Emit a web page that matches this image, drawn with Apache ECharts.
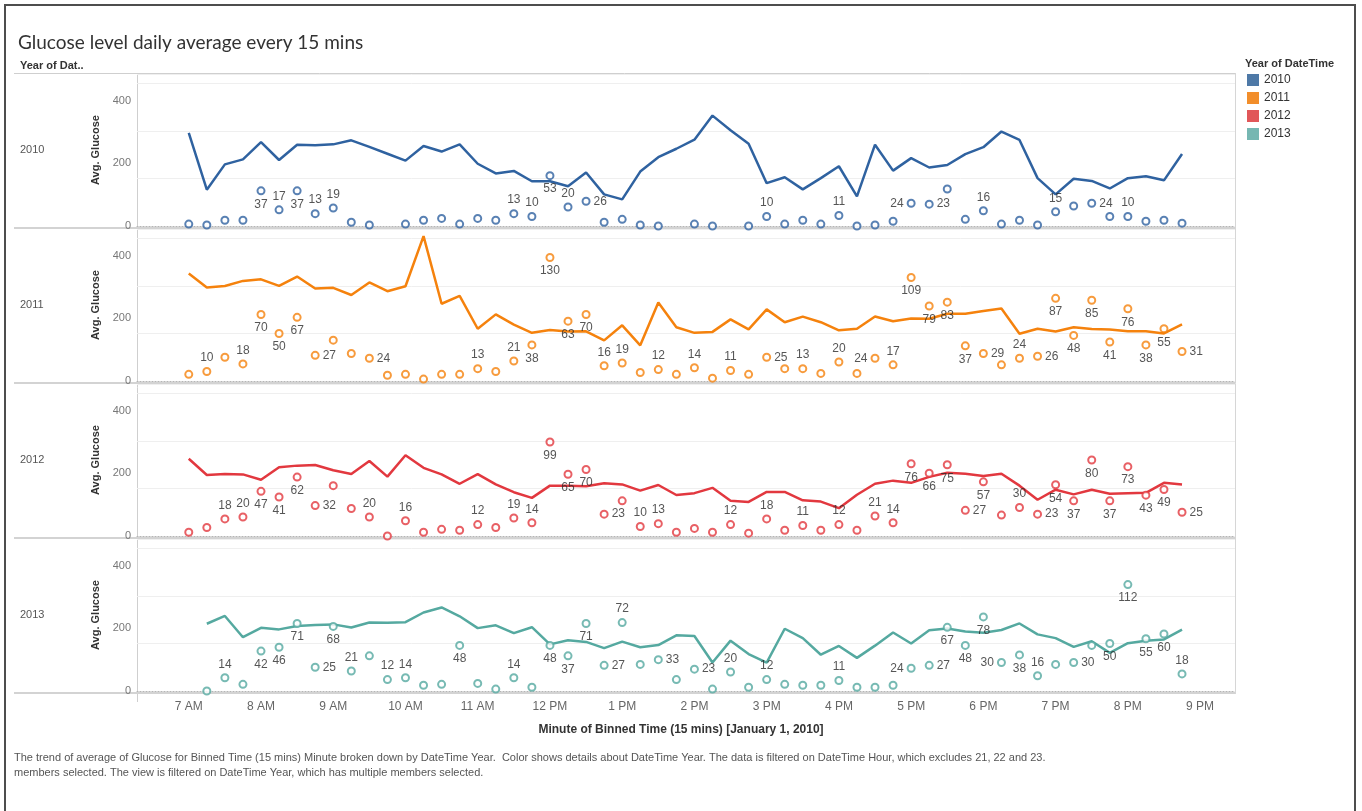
<!DOCTYPE html>
<html>
<head>
<meta charset="utf-8">
<script src="https://cdn.jsdelivr.net/npm/echarts@6/dist/echarts.min.js"></script>
<style>
html,body{margin:0;padding:0;background:#fff;}
#chart{width:1362px;height:811px;}
</style>
</head>
<body>
<div id="chart"></div>
<script>
// ---------- DATA ----------
const times = ["7:00","7:15","7:30","7:45","8:00","8:15","8:30","8:45","9:00","9:15","9:30","9:45",
  "10:00","10:15","10:30","10:45","11:00","11:15","11:30","11:45","12:00","12:15","12:30","12:45",
  "13:00","13:15","13:30","13:45","14:00","14:15","14:30","14:45","15:00","15:15","15:30","15:45",
  "16:00","16:15","16:30","16:45","17:00","17:15","17:30","17:45","18:00","18:15","18:30","18:45",
  "19:00","19:15","19:30","19:45","20:00","20:15","20:30","20:45"];
const years = ["2010","2011","2012","2013"];

const glucose2010 = [298,116,197,213,268,211,260,258,261,274,253,231,209,256,238,261,199,168,176,143,
  143,127,171,101,85,174,220,247,276,353,306,263,137,156,117,153,191,95,260,177,
  217,187,195,230,252,302,275,153,101,151,144,120,153,159,146,230];
const count2010 = [2,1,6,6,37,17,37,13,19,4,1,null,2,6,8,2,8,6,13,10,
  53,20,26,4,7,1,0,null,2,0,null,0,10,2,6,2,11,0,1,5,
  24,23,39,7,16,2,6,1,15,21,24,10,10,5,6,3];

const glucose2011 = [344,299,304,320,325,304,334,296,298,275,315,287,303,463,247,272,167,213,180,154,
  163,158,159,130,178,114,251,172,154,157,197,165,229,188,206,188,162,167,206,191,
  200,199,215,215,224,232,151,167,158,172,166,165,159,159,152,181];
const count2011 = [7,10,25,18,70,50,67,27,43,29,24,6,7,2,7,7,13,10,21,38,
  130,63,70,16,19,9,12,7,14,3,11,7,25,13,13,8,20,8,24,17,
  109,79,83,37,29,17,24,26,87,48,85,41,76,38,55,31];

const glucose2012 = [247,195,198,197,180,220,225,227,210,198,240,190,258,218,197,167,198,165,140,122,
  161,161,159,169,165,145,163,131,137,154,113,109,141,141,114,110,89,132,167,177,
  170,189,202,199,192,199,161,116,148,133,148,135,137,138,170,165];
const count2012 = [4,9,18,20,47,41,62,32,53,29,20,0,16,4,7,6,12,9,19,14,
  99,65,70,23,37,10,13,4,8,4,12,3,18,6,11,6,12,6,21,14,
  76,66,75,27,57,22,30,23,54,37,80,37,73,43,49,25];

const glucose2013 = [null,215,240,172,202,197,208,211,213,203,219,218,220,251,267,239,201,210,185,204,
  149,162,157,137,158,140,147,178,176,91,161,118,91,199,169,116,144,106,145,187,
  152,194,200,190,186,195,216,181,169,141,159,122,153,161,165,196];
const count2013 = [null,0,14,7,42,46,71,25,68,21,37,12,14,6,7,48,8,2,14,4,
  48,37,71,27,72,28,33,12,23,2,20,4,12,7,6,6,11,4,4,6,
  24,27,67,48,78,30,38,16,28,30,48,50,112,55,60,18];

const glucoseTicks = [0,200,400];
const xTickLabels = ["7 AM","8 AM","9 AM","10 AM","11 AM","12 PM","1 PM","2 PM","3 PM","4 PM","5 PM","6 PM","7 PM","8 PM","9 PM"];

// which counts carry a visible label, and where it sits (t=top b=bottom r=right l=left)
const labelPlace = {
  "2010": {4:'b',5:'t',6:'b',7:'t',8:'t',18:'t',19:'t',20:'b',21:'t',22:'r',32:'t',36:'t',40:'l',41:'r',44:'t',48:'t',50:'r',52:'t'},
  "2011": {1:'t',3:'t',4:'b',5:'b',6:'b',7:'r',10:'r',16:'t',18:'t',19:'b',20:'b',21:'b',22:'b',23:'t',24:'t',26:'t',28:'t',30:'t',32:'r',34:'t',36:'t',38:'l',39:'t',40:'b',41:'b',42:'b',43:'b',44:'r',46:'t',47:'r',48:'b',49:'b',50:'b',51:'b',52:'b',53:'b',54:'b',55:'r'},
  "2012": {2:'t',3:'t',4:'b',5:'b',6:'b',7:'r',10:'t',12:'t',16:'t',18:'t',19:'t',20:'b',21:'b',22:'b',23:'r',25:'t',26:'t',30:'t',32:'t',34:'t',36:'t',38:'t',39:'t',40:'b',41:'b',42:'b',43:'r',44:'b',46:'t',47:'r',48:'b',49:'b',50:'b',51:'b',52:'b',53:'b',54:'b',55:'r'},
  "2013": {2:'t',4:'b',5:'b',6:'b',7:'r',8:'b',9:'t',11:'t',12:'t',15:'b',18:'t',20:'b',21:'b',22:'b',23:'r',24:'t',26:'r',28:'r',30:'t',32:'t',36:'t',40:'l',41:'r',42:'b',43:'b',44:'b',45:'l',46:'b',47:'t',49:'r',51:'b',52:'b',53:'b',54:'b',55:'t'}
};

// ---------- STYLE / LAYOUT ----------
const lineColors = {"2010":"#2f62a0","2011":"#f5820d","2012":"#e2383f","2013":"#55a9a0"};
const legendColors = {"2010":"#4e79a7","2011":"#f28e2b","2012":"#e15759","2013":"#76b7b2"};
const glucoseSeries = {"2010":glucose2010,"2011":glucose2011,"2012":glucose2012,"2013":glucose2013};
const countSeries = {"2010":count2010,"2011":count2011,"2012":count2012,"2013":count2013};

const FONT = "'Liberation Sans',Arial,sans-serif";
const PLOT_L = 137, PLOT_R = 1235, TOP0 = 74, STEP = 155, PH = 152;
const GMAX = 486, CMAX = 160;

function toTime(s){ const p = s.split(':'); return new Date(2010,0,1,+p[0],+p[1]).getTime(); }
const xMin = new Date(2010,0,1,6,17).getTime();
const xMax = new Date(2010,0,1,21,29).getTime();
const posMap = {t:'top',b:'bottom',r:'right',l:'left'};

const grids=[], xAxes=[], yAxes=[], series=[];
years.forEach((yr,k)=>{
  grids.push({left:PLOT_L, right:1362-PLOT_R, top:TOP0+STEP*k, height:PH, containLabel:false});
  const last = k===years.length-1;
  xAxes.push({
    type:'time', gridIndex:k, min:xMin, max:xMax,
    minInterval:3600000, maxInterval:3600000,
    axisLine:{show:true, lineStyle:{color:'#b5b5b5', type:[1,2], width:1}},
    axisTick:{show:false}, splitLine:{show:false},
    axisLabel:{show:last, color:'#666', fontSize:12, fontFamily:FONT, margin:10,
      showMinLabel:false, showMaxLabel:false, hideOverlap:false,
      formatter:function(v){ const d=new Date(v); if(d.getMinutes()!==0) return '';
        const h=d.getHours(); const i=h-7; return (i>=0 && i<xTickLabels.length)? xTickLabels[i] : ''; }}
  });
  yAxes.push({
    type:'value', gridIndex:k, min:0, max:GMAX, interval:200, position:'left',
    name:'Avg. Glucose', nameLocation:'middle', nameGap:32, nameRotate:90,
    nameTextStyle:{color:'#333', fontSize:11, fontWeight:'bold', fontFamily:FONT},
    axisLine:{show:false}, axisTick:{show:false}, splitLine:{show:false},
    axisLabel:{color:'#777', fontSize:11, fontFamily:FONT, margin:6, showMaxLabel:false,
      formatter:function(v){ return glucoseTicks.indexOf(v)>=0 ? String(v) : ''; }}
  });
  yAxes.push({
    type:'value', gridIndex:k, min:0, max:CMAX, interval:50, position:'right',
    axisLine:{show:false}, axisTick:{show:false}, axisLabel:{show:false},
    splitLine:{show:true, lineStyle:{color:'#efefef', width:1}}
  });
  const g = glucoseSeries[yr], c = countSeries[yr], lp = labelPlace[yr];
  series.push({
    type:'line', name:yr, xAxisIndex:k, yAxisIndex:2*k, showSymbol:false, symbol:'none',
    connectNulls:false, z:3,
    lineStyle:{color:lineColors[yr], width:2.5}, itemStyle:{color:lineColors[yr]},
    data: times.map((t,i)=> [toTime(t), g[i]])
  });
  series.push({
    type:'scatter', name:yr, xAxisIndex:k, yAxisIndex:2*k+1, symbol:'emptyCircle', symbolSize:7, z:4,
    itemStyle:{color:lineColors[yr], borderColor:lineColors[yr], borderWidth:2},
    data: times.map((t,i)=>{
      if(c[i]===null) return null;
      const item = {value:[toTime(t), c[i]]};
      if(lp[i]){
        item.label = {show:true, position:posMap[lp[i]], distance:3,
          formatter:String(c[i]), color:'#2b2b2b', fontSize:12, fontFamily:FONT};
      }
      return item;
    }).filter(d=>d!==null)
  });
});

// decorations
const graphic = [];
const line = (x1,y1,x2,y2,color,w,dash)=>({type:'line', silent:true,
  shape:{x1,y1,x2,y2}, style:{stroke:color, lineWidth:w, lineDash:dash||null}});
graphic.push({type:'polyline', silent:true, shape:{points:[[5,811],[5,5],[1355,5],[1355,811]]},
  style:{stroke:'#4d4d4d', lineWidth:2, fill:null}});
graphic.push({type:'text', left:18, top:33, silent:true,
  style:{text:'Glucose level daily average every 15 mins', font:"19px Lato, 'Open Sans', sans-serif", fill:'#333'}});
graphic.push({type:'text', left:20, top:60, silent:true,
  style:{text:'Year of Dat..', font:"bold 11px 'Liberation Sans', Arial, sans-serif", fill:'#333'}});
graphic.push(line(14,73.5,PLOT_R,73.5,'#cfcfcf',1));
graphic.push(line(PLOT_L+0.5,73,PLOT_L+0.5,702,'#cfcfcf',1));
graphic.push(line(PLOT_R+0.5,73,PLOT_R+0.5,694,'#d6d6d6',1));
years.forEach((yr,k)=>{
  const yb = TOP0+STEP*k+PH+2;
  graphic.push(line(14,yb,PLOT_R,yb,'#d3d3d3',2));
  graphic.push({type:'text', left:20, top:TOP0+STEP*k+70, silent:true,
    style:{text:yr, font:"11px 'Liberation Sans', Arial, sans-serif", fill:'#555'}});
  // legend
  graphic.push({type:'rect', silent:true, shape:{x:1247,y:74+18*k,width:12,height:12},
    style:{fill:legendColors[yr], stroke:'#ffffff', lineWidth:0}});
  graphic.push({type:'text', left:1264, top:74+18*k, silent:true,
    style:{text:yr, font:"12px 'Liberation Sans', Arial, sans-serif", fill:'#333'}});
});
graphic.push({type:'text', left:1245, top:58, silent:true,
  style:{text:'Year of DateTime', font:"bold 11px 'Liberation Sans', Arial, sans-serif", fill:'#333'}});
graphic.push({type:'text', left:'center', top:724, silent:true,
  style:{text:'Minute of Binned Time (15 mins) [January 1, 2010]', font:"bold 12px "+FONT, fill:'#333'}});
graphic.push({type:'text', left:14, top:752, silent:true,
  style:{text:'The trend of average of Glucose for Binned Time (15 mins) Minute broken down by DateTime Year.  Color shows details about DateTime Year. The data is filtered on DateTime Hour, which excludes 21, 22 and 23.',
    font:"11px "+FONT, fill:'#555'}});
graphic.push({type:'text', left:14, top:767, silent:true,
  style:{text:'members selected. The view is filtered on DateTime Year, which has multiple members selected.',
    font:"11px "+FONT, fill:'#555'}});

const chart = echarts.init(document.getElementById('chart'), null, {renderer:'canvas'});
chart.setOption({
  animation:false,
  backgroundColor:'#ffffff',
  grid:grids, xAxis:xAxes, yAxis:yAxes, series:series, graphic:graphic
});
</script>
</body>
</html>
